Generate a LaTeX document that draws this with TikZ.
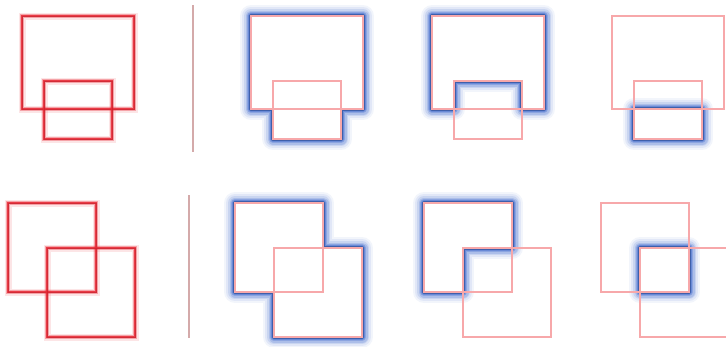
\documentclass[tikz,border=0pt]{standalone}
\usepackage{tikz}
\definecolor{hotred}{RGB}{232,40,52}
\definecolor{palered}{RGB}{247,168,170}
\definecolor{glowblue}{RGB}{70,110,205}
\definecolor{rulecol}{RGB}{212,170,170}

% blurred red outline
\newcommand{\redbox}[1]{%
  \draw[hotred, line width=7pt, opacity=0.12] #1;
  \draw[hotred, line width=4.5pt, opacity=0.35] #1;
  \draw[hotred, line width=2.6pt, opacity=0.85] #1;
  \draw[hotred!80!black, line width=1pt, opacity=0.5] #1;}
% faded pink outline
\newcommand{\palebox}[1]{%
  \draw[palered, line width=2.8pt, opacity=0.35] #1;
  \draw[palered, line width=1.4pt] #1;}
% outer blue glow of a region
\newcommand{\glowregion}[1]{%
  \foreach \w/\o in {22/0.07, 18/0.1, 14/0.15, 11/0.22, 8/0.33, 5.5/0.5}
    \draw[glowblue, line width=\w pt, opacity=\o, line join=round] #1;
  \draw[glowblue!80!black, line width=3.2pt, opacity=0.85, line join=round] #1;
  \fill[white] #1;}

\begin{document}
\begin{tikzpicture}[x=1pt,y=-1pt]
        \useasboundingbox (0,0) rectangle (726,346);
        \clip (0,0) rectangle (726,346);

        % --- TOP ROW ---
        \def\bigA{(0,0) rectangle (112,93)}
        \def\smallB{(22,65) rectangle (90,123)}

        \begin{scope}[shift={(22,16)}]
            \redbox{\bigA}
            \redbox{\smallB}
        \end{scope}
        \draw[rulecol, line width=1.5pt] (193,5) -- (193,152);

        \begin{scope}[shift={(251,16)}]
            \glowregion{(0,0) -- (112,0) -- (112,93) -- (90,93) -- (90,123) -- (22,123) -- (22,93) -- (0,93) -- cycle}
            \palebox{\bigA}
            \palebox{\smallB}
        \end{scope}

        \begin{scope}[shift={(432,16)}]
            \glowregion{(0,0) -- (112,0) -- (112,93) -- (90,93) -- (90,65) -- (22,65) -- (22,93) -- (0,93) -- cycle}
            \palebox{\bigA}
            \palebox{\smallB}
        \end{scope}

        \begin{scope}[shift={(612,16)}]
            \glowregion{(22,93) rectangle (90,123)}
            \palebox{\bigA}
            \palebox{\smallB}
        \end{scope}

        % --- BOTTOM ROW ---
        \def\sqA{(0,0) rectangle (88,89)}
        \def\sqB{(39,45) rectangle (127,134)}

        \begin{scope}[shift={(8,203)}]
            \redbox{\sqA}
            \redbox{\sqB}
        \end{scope}
        \draw[rulecol, line width=1.5pt] (189,195) -- (189,338);

        \begin{scope}[shift={(235,203)}]
            \glowregion{(0,0) -- (88,0) -- (88,45) -- (127,45) -- (127,134) -- (39,134) -- (39,89) -- (0,89) -- cycle}
            \palebox{\sqA}
            \palebox{\sqB}
        \end{scope}

        \begin{scope}[shift={(424,203)}]
            \glowregion{(0,0) -- (88,0) -- (88,45) -- (39,45) -- (39,89) -- (0,89) -- cycle}
            \palebox{\sqA}
            \palebox{\sqB}
        \end{scope}

        \begin{scope}[shift={(601,203)}]
            \glowregion{(39,45) rectangle (88,89)}
            \palebox{\sqA}
            \palebox{\sqB}
        \end{scope}
    \end{tikzpicture}
\end{document}
